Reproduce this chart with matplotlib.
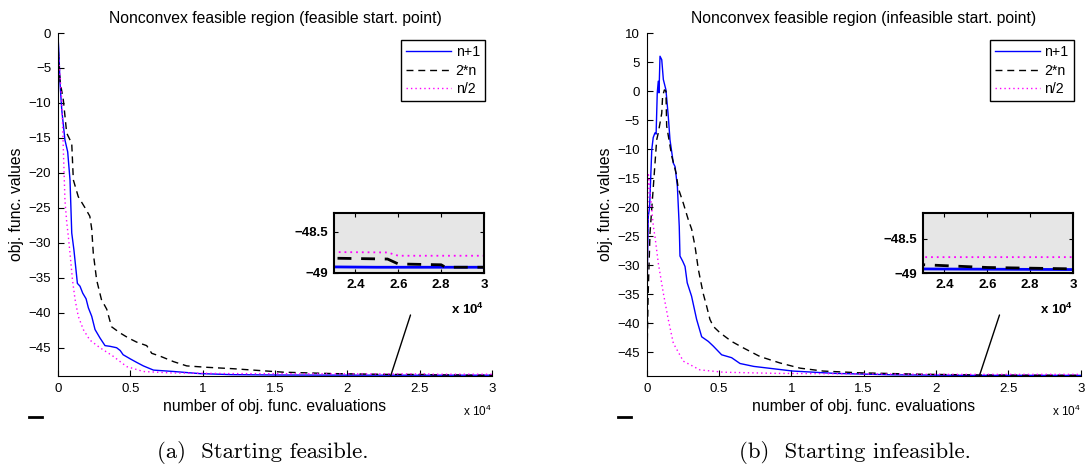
import matplotlib
matplotlib.use("Agg")
import matplotlib.pyplot as plt
from matplotlib.patches import ConnectionPatch
from matplotlib.lines import Line2D

plt.rcParams["font.family"] = ["Liberation Sans", "DejaVu Sans"]
plt.rcParams["mathtext.fontset"] = "custom"
plt.rcParams["mathtext.rm"] = "Liberation Sans"
plt.rcParams["mathtext.bf"] = "Liberation Sans:bold"

# ---- data (x in units of 1e4 evaluations) ----
# (a) feasible starting point
a_n1_x = [0, 0.005, 0.014, 0.026, 0.048, 0.067, 0.083, 0.095, 0.11, 0.134, 0.152, 0.171, 0.194,
          0.21, 0.233, 0.256, 0.29, 0.325, 0.36, 0.405, 0.43, 0.45, 0.50, 0.544, 0.59, 0.66,
          0.8, 0.98, 1.2, 1.5, 2.0, 2.5, 3.0]
a_n1_y = [-0.5, -2.2, -7.2, -11, -15.3, -17, -21, -28.6, -31, -35.8, -36.2, -37.2, -38,
          -39.3, -40.5, -42.4, -43.6, -44.7, -44.8, -45.0, -45.4, -46, -46.6, -47.1, -47.6, -48.2,
          -48.4, -48.7, -48.85, -48.9, -48.92, -48.93, -48.93]
a_2n_x = [0, 0.005, 0.015, 0.037, 0.06, 0.095, 0.106, 0.14, 0.187, 0.22, 0.233, 0.244, 0.267,
          0.30, 0.337, 0.37, 0.43, 0.486, 0.544, 0.613, 0.648, 0.705, 0.80, 0.89, 1.03, 1.21,
          1.56, 1.9, 2.3, 2.55, 2.6, 2.8, 2.82, 3.0]
a_2n_y = [-1, -4, -7, -9.6, -14.3, -15.8, -21, -23.4, -25, -26.2, -28, -31.5, -35.3,
          -38.1, -39.5, -42, -42.9, -43.6, -44.2, -44.7, -45.8, -46.2, -47, -47.6, -47.8, -48.0,
          -48.5, -48.7, -48.82, -48.83, -48.89, -48.9, -48.93, -48.93]
a_half_x = [0, 0.01, 0.026, 0.037, 0.048, 0.06, 0.071, 0.083, 0.10, 0.118, 0.14, 0.175, 0.22,
            0.29, 0.38, 0.475, 0.59, 0.78, 1.2, 2.0, 2.55, 2.6, 3.0]
a_half_y = [-2, -5, -9.6, -16.7, -23.9, -27, -29, -31.5, -35.3, -38.1, -40.5, -42.4, -43.9,
            -45, -46.2, -47.7, -48.4, -48.6, -48.7, -48.74, -48.75, -48.79, -48.79]

# (b) infeasible starting point
b_n1_x = [0, 0.005, 0.011, 0.02, 0.035, 0.045, 0.057, 0.065, 0.073, 0.08, 0.085, 0.092, 0.104,
          0.115, 0.133, 0.149, 0.161, 0.184, 0.196, 0.212, 0.225, 0.23, 0.249, 0.265, 0.28,
          0.31, 0.345, 0.38, 0.426, 0.46, 0.518, 0.587, 0.645, 0.74, 0.875, 1.01, 1.3, 1.7,
          2.2, 3.0]
b_n1_y = [-49, -30, -21.6, -20, -10.1, -8, -7.2, -7.4, -0.3, 1.7, -0.3, 6, 5.4,
          2, 0.2, -4.3, -8.4, -12.4, -13, -16.4, -23.3, -28.4, -29.3, -30.2, -33,
          -35.3, -39.3, -42.3, -43.1, -43.9, -45.4, -45.9, -46.9, -47.4, -47.8, -48.2, -48.6, -48.85,
          -48.94, -48.95]
b_2n_x = [0, 0.01, 0.023, 0.046, 0.069, 0.08, 0.104, 0.11, 0.122, 0.133, 0.138, 0.173, 0.203,
          0.218, 0.253, 0.287, 0.311, 0.334, 0.357, 0.39, 0.414, 0.437, 0.46, 0.506, 0.587,
          0.667, 0.783, 0.92, 1.06, 1.22, 1.47, 1.9, 2.3, 2.6, 3.0]
b_2n_y = [-49, -35, -24.4, -16.4, -8.4, -7.2, -3.8, -0.9, 0.2, 0, -6, -11.2, -14.1,
          -16.7, -19.3, -22.1, -23.8, -26.7, -30.7, -34.8, -37, -39.3, -40.5, -41.6, -43.1,
          -44.2, -45.7, -46.8, -47.7, -48.2, -48.5, -48.75, -48.88, -48.92, -48.94]
b_half_x = [0, 0.005, 0.011, 0.03, 0.046, 0.057, 0.08, 0.115, 0.149, 0.184, 0.253, 0.368,
            0.53, 0.9, 2.0, 3.0]
b_half_y = [-49, -30, -14.1, -19, -23.3, -25, -29.6, -34.8, -39.3, -43.4, -46.5, -48,
            -48.4, -48.6, -48.77, -48.77]

titles = ["Nonconvex feasible region (feasible start. point)",
          "Nonconvex feasible region (infeasible start. point)"]
captions = ["(a)  Starting feasible.", "(b)  Starting infeasible."]
labels = ["n+1", "2*n", "n/2"]
x_ticks = [0, 0.5, 1, 1.5, 2, 2.5, 3]
x_ticklabels = ["0", "0.5", "1", "1.5", "2", "2.5", "3"]
inset_xticks = [2.4, 2.6, 2.8, 3]
inset_xticklabels = ["2.4", "2.6", "2.8", "3"]
inset_yticks = [-49, -48.5]
inset_yticklabels = ["\u221249", "\u221248.5"]

styles = [dict(color="#0000ff", ls="-"),
          dict(color="black", ls=(0, (5, 3.5))),
          dict(color="#ff00ff", ls=(0, (1, 2.2)))]

W, H = 1085, 466
fig = plt.figure(figsize=(W / 100, H / 100), dpi=100)


def panel(left, series, ylim, yticks, inset_ylim, inset_left, title, caption, cap_x, dash_x):
    ax = fig.add_axes([left / W, 1 - 375.7 / H, 434 / W, 342.7 / H])
    for (x, y), lab, st in zip(series, labels, styles):
        ax.plot(x, y, lw=1, label=lab, **st)
    ax.set_xlim(0, 3)
    ax.set_ylim(*ylim)
    ax.set_xticks(x_ticks)
    ax.set_xticklabels(x_ticklabels)
    ax.set_yticks(yticks)
    for s in ["top", "right"]:
        ax.spines[s].set_visible(False)
    ax.tick_params(direction="in", length=4, labelsize=9.5, pad=5)
    ax.set_title(title, fontsize=11.3, pad=7)
    ax.set_xlabel("number of obj. func. evaluations", fontsize=11.3, labelpad=3)
    ax.set_ylabel("obj. func. values", fontsize=11.3, labelpad=3)
    ax.text(1.0, -0.105, r"x 10$^{4}$", transform=ax.transAxes, ha="right", va="center",
            fontsize=8.5)
    leg = ax.legend(loc="upper right", fontsize=10.2, fancybox=False, framealpha=1,
                    edgecolor="black", handlelength=3.2, handletextpad=0.3,
                    labelspacing=0.32, borderpad=0.35, borderaxespad=0.5)
    leg.get_frame().set_linewidth(1.0)

    ins = fig.add_axes([inset_left / W, 1 - 273 / H, 150 / W, 60 / H])
    ins.set_facecolor("#e6e6e6")
    for (x, y), st in zip(series, styles):
        ins.plot(x, y, lw=2 if st["color"] != "#ff00ff" else 1.3, **st)
    ins.set_xlim(2.3, 3)
    ins.set_ylim(*inset_ylim)
    ins.set_xticks(inset_xticks)
    ins.set_xticklabels(inset_xticklabels, fontweight="bold")
    ins.set_yticks(inset_yticks)
    ins.set_yticklabels(inset_yticklabels, fontweight="bold")
    ins.tick_params(direction="in", length=3, labelsize=9.5, top=True, right=True, pad=4)
    for s in ins.spines.values():
        s.set_linewidth(1.5)
    ins.text(1.0, -0.6, r"x 10$^{\mathbf{4}}$", transform=ins.transAxes, ha="right",
             va="center", fontsize=9.5, fontweight="bold")

    con = ConnectionPatch(xyA=(2.3, ylim[0]), coordsA=ax.transData,
                          xyB=(0.51, -0.7), coordsB=ins.transAxes, color="black", lw=1)
    fig.add_artist(con)

    fig.add_artist(Line2D([dash_x / W, (dash_x + 13) / W], [1 - 416.7 / H] * 2,
                          transform=fig.transFigure, color="black", lw=2))
    fig.text(cap_x / W, 1 - 453 / H, caption, family="cmr10", fontsize=16.4,
             ha="center", va="center")


panel(58, [(a_n1_x, a_n1_y), (a_2n_x, a_2n_y), (a_half_x, a_half_y)],
      (-49, 0), list(range(-45, 1, 5)), (-49, -48.27), 334, titles[0], captions[0], 263, 29)
panel(646.7, [(b_n1_x, b_n1_y), (b_2n_x, b_2n_y), (b_half_x, b_half_y)],
      (-49, 10), list(range(-45, 11, 5)), (-49, -48.13), 923, titles[1], captions[1], 855, 618)

fig.savefig("out.png", dpi=100)
